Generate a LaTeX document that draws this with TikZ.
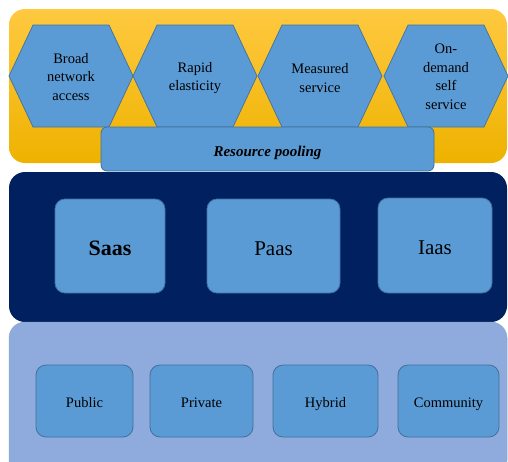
\documentclass[tikz,border=0pt]{standalone}
\usepackage{fontspec}
\setmainfont{Liberation Serif}
\definecolor{boxblue}{RGB}{91,155,213}
\definecolor{boxedge}{RGB}{65,113,156}
\definecolor{navypanel}{RGB}{0,32,96}
\definecolor{lightpanel}{RGB}{143,170,220}
\definecolor{ytop}{RGB}{255,201,64}
\definecolor{ybot}{RGB}{238,178,0}
\tikzset{
  hexbox/.style={fill=boxblue,draw=boxedge,line width=0.7pt,line join=miter},
  hextext/.style={align=center,font=\fontsize{14.5}{18.5}\selectfont,inner sep=0pt},
  tilebox/.style={fill=boxblue,draw=boxedge,line width=0.8pt,rounded corners=10pt,inner sep=0pt},
  svctext/.style={font=\fontsize{21}{24}\selectfont,text height=18pt,text depth=0pt},
  depltext/.style={font=\fontsize{14.5}{17}\selectfont,text height=12pt,text depth=0pt},
}
\begin{document}
\begin{tikzpicture}[x=1pt,y=-1pt]
\useasboundingbox (0,0) rectangle (508,461);
\clip (0,0) rectangle (508,461);
% yellow panel
\shade[top color=ytop,bottom color=ybot,rounded corners=16pt] (9,9) rectangle (507,163);
% hexagons
\foreach \c/\nm in {71/h1,195/h2,320/h3,446/h4}{
  \path[hexbox] ({\c-62},76) -- ({\c-38},25) -- ({\c+38},25) -- ({\c+62},76) -- ({\c+38},127) -- ({\c-38},127) -- cycle;
}
\node[hextext] (broad) at (71,77) {Broad\\network\\access};
\node[hextext] (rapid) at (195,78) {Rapid\\elasticity};
\node[hextext] (measured) at (320,78) {Measured\\service};
\node[hextext] (ondemand) at (446,77) {On-\\demand\\self\\service};
% dark panel
\fill[navypanel,rounded corners=16pt] (9,172) rectangle (507,322);
% resource pooling
\node[tilebox,rounded corners=6pt,minimum width=333pt,minimum height=44pt,text height=14pt,text depth=0pt,font=\fontsize{15}{18}\selectfont\bfseries\itshape] (pool) at (267.5,149) {Resource pooling};
% light panel
\filldraw[fill=lightpanel,draw=boxedge!60,line width=0.5pt,rounded corners=16pt] (9,322) rectangle (507,476);
% service models
\node[tilebox,minimum width=110pt,minimum height=94pt,svctext,font=\fontsize{22}{24}\selectfont\bfseries] (saas) at (110,246) {Saas};
\node[tilebox,minimum width=133pt,minimum height=94pt,svctext] (paas) at (273.5,246) {Paas};
\node[tilebox,minimum width=114pt,minimum height=95pt,svctext] (iaas) at (435,245.5) {Iaas};
% deployment models
\node[tilebox,minimum width=97pt,minimum height=72pt,depltext] (public) at (84.5,401) {Public};
\node[tilebox,minimum width=103pt,minimum height=72pt,depltext] (private) at (201.5,401) {Private};
\node[tilebox,minimum width=105pt,minimum height=72pt,depltext] (hybrid) at (325.5,401) {Hybrid};
\node[tilebox,minimum width=101pt,minimum height=72pt,depltext] (community) at (448.5,401) {Community};
\end{tikzpicture}
\end{document}
